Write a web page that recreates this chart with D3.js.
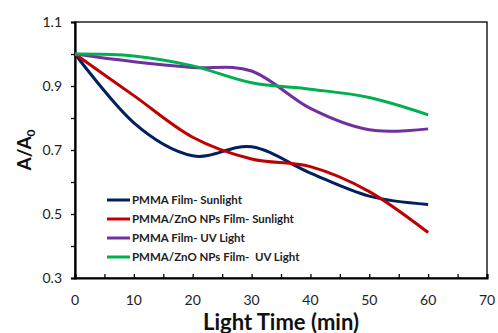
<!DOCTYPE html>
<html>
<head>
<meta charset="utf-8">
<script src="https://cdn.jsdelivr.net/npm/d3@7"></script>
<style>
  body { margin: 0; background: #fff; }
  text { font-family: Lato, "Open Sans", sans-serif; }
</style>
</head>
<body>
<svg width="498" height="333"></svg>
<script>
var times = [0, 10, 20, 30, 40, 50, 60];
var seriesNames = ["PMMA Film- Sunlight", "PMMA/ZnO NPs Film- Sunlight", "PMMA Film- UV Light", "PMMA/ZnO NPs Film-  UV Light"];
var pmmaSun = [1.0, 0.785, 0.682, 0.71, 0.628, 0.556, 0.53];
var znoSun = [1.0, 0.87, 0.74, 0.672, 0.648, 0.57, 0.442];
var pmmaUv = [1.0, 0.976, 0.958, 0.947, 0.83, 0.763, 0.766];
var znoUv = [1.0, 0.994, 0.963, 0.91, 0.89, 0.864, 0.81];
var colors = ["#002060", "#C00000", "#7030A0", "#00B050"];
var xTicks = [0, 10, 20, 30, 40, 50, 60, 70];
var yTicks = [0.3, 0.5, 0.7, 0.9, 1.1];

var allSeries = [pmmaSun, znoSun, pmmaUv, znoUv];

var svg = d3.select("svg");
var plotLeft = 75, plotRight = 487, plotTop = 22, plotBottom = 278;

var x = d3.scaleLinear().domain([0, 70]).range([plotLeft, plotRight]);
var y = d3.scaleLinear().domain([0.3, 1.1]).range([plotBottom, plotTop]);

// frame (top / right)
svg.append("rect")
  .attr("x", plotLeft).attr("y", plotTop)
  .attr("width", plotRight - plotLeft).attr("height", plotBottom - plotTop)
  .attr("fill", "none").attr("stroke", "#222").attr("stroke-width", 1.5);

// x axis, ticks pointing up
var xAxis = svg.append("g")
  .attr("transform", "translate(0," + plotBottom + ")")
  .call(d3.axisBottom(x).tickValues(d3.range(0, 71, 5)).tickSize(-4).tickFormat(""));
xAxis.select(".domain").attr("stroke", "#000").attr("stroke-width", 2.2);
xAxis.selectAll(".tick line").attr("stroke", "#000").attr("stroke-width", 1.3);

svg.append("g").selectAll("text")
  .data(xTicks)
  .enter()
  .append("text")
  .attr("x", (d) => x(d))
  .attr("y", 305)
  .attr("text-anchor", "middle")
  .attr("font-size", 14)
  .attr("fill", "#222")
  .text((d) => d);

// y axis, ticks pointing left
var yAxis = svg.append("g")
  .attr("transform", "translate(" + plotLeft + ",0)")
  .call(d3.axisLeft(y).tickValues(d3.range(3, 12).map((d) => d / 10)).tickSize(4).tickFormat(""));
yAxis.select(".domain").attr("stroke", "#000").attr("stroke-width", 2.2);
yAxis.selectAll(".tick line").attr("stroke", "#000").attr("stroke-width", 1.3);

svg.append("g").selectAll("text")
  .data(yTicks)
  .enter()
  .append("text")
  .attr("x", 62)
  .attr("y", (d) => y(d) + 5)
  .attr("text-anchor", "end")
  .attr("font-size", 14)
  .attr("fill", "#222")
  .text((d) => d.toFixed(1));

// smoothed lines
var line = d3.line()
  .x((d, i) => x(times[i]))
  .y((d) => y(d))
  .curve(d3.curveCatmullRom.alpha(0));

svg.append("g").selectAll("path")
  .data(allSeries)
  .enter()
  .append("path")
  .attr("d", (d) => line(d))
  .attr("fill", "none")
  .attr("stroke", (d, i) => colors[i])
  .attr("stroke-width", 3);

// legend
var legend = svg.append("g").selectAll("g")
  .data(seriesNames)
  .enter()
  .append("g")
  .attr("transform", (d, i) => "translate(107," + (200 + i * 19) + ")");
legend.append("line")
  .attr("x1", 0).attr("x2", 23)
  .attr("stroke", (d, i) => colors[i])
  .attr("stroke-width", 3);
legend.append("text")
  .attr("x", 25).attr("y", 4)
  .attr("font-size", 11.5)
  .attr("font-weight", "bold")
  .attr("fill", "#222")
  .style("white-space", "pre")
  .text((d) => d);

// axis titles
svg.append("text")
  .attr("transform", "translate(31,150) rotate(-90)")
  .attr("text-anchor", "middle")
  .attr("font-size", 19)
  .attr("font-weight", "bold")
  .attr("fill", "#111")
  .html("A/A<tspan font-size='12' dy='4'>0</tspan>");

svg.append("text")
  .attr("x", 281).attr("y", 330)
  .attr("text-anchor", "middle")
  .attr("font-size", 22)
  .attr("font-weight", "bold")
  .attr("fill", "#111")
  .text("Light Time (min)");
</script>
</body>
</html>
